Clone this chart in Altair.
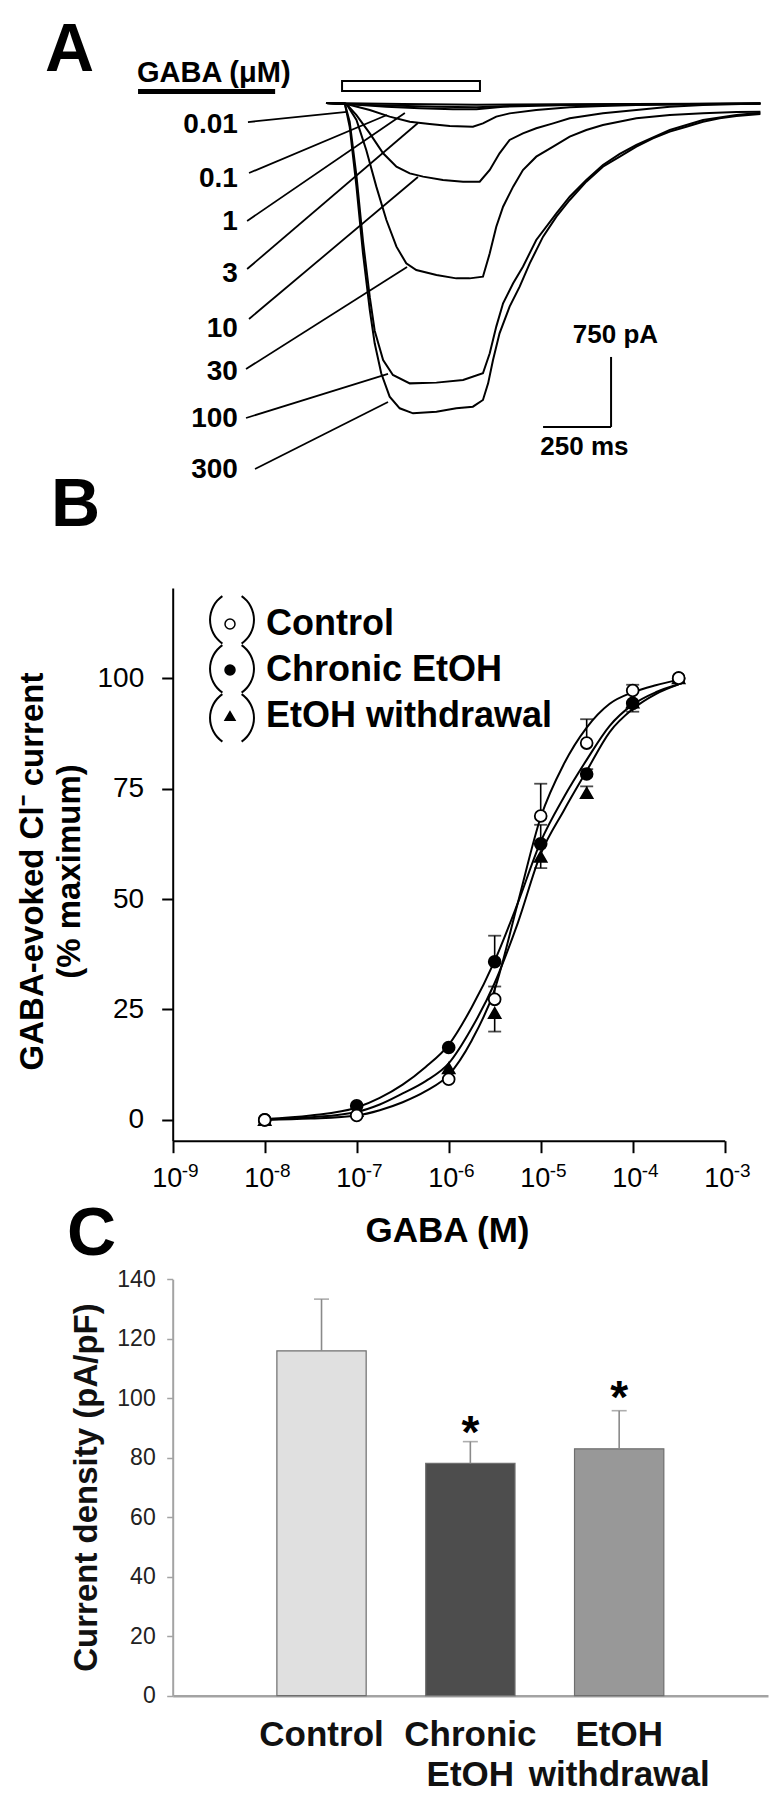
import altair as alt
import pandas as pd

FONT = "Liberation Sans"

# ======================= Panel A : current traces (time ms, current pA) =======================
dose_labels = ["0.01", "0.1", "1", "3", "10", "30", "100", "300"]

t_001 = [0, 283, 553, 1597]
i_001 = [0, -11, -18, -4]
t_01 = [0, 161, 406, 553, 773, 1597]
i_01 = [0, -21, -39, -46, -21, -4]
t_1 = [0, 75, 222, 344, 467, 553, 651, 896, 1597]
i_1 = [0, -11, -39, -57, -68, -68, -39, -21, -4]
t_3 = [0, 75, 161, 234, 308, 381, 455, 540, 577, 626, 675, 773, 896, 1018, 1141, 1597]
i_3 = [0, -11, -75, -146, -200, -225, -246, -254, -218, -146, -111, -75, -46, -32, -21, -4]
t_10 = [0, 75, 112, 161, 210, 259, 308, 357, 430, 504, 565, 602, 638, 675, 724, 773, 835, 896,
        1018, 1141, 1264, 1386, 1597]
i_10 = [0, -11, -129, -325, -539, -682, -754, -789, -825, -843, -843, -718, -539, -396, -325, -271,
        -218, -164, -111, -75, -39, -21, -4]
t_30 = [0, 75, 112, 148, 185, 222, 259, 295, 332, 406, 479, 528, 577, 602, 626, 651, 688, 724, 773,
        835, 896, 957, 1018, 1141, 1264, 1386, 1509, 1597]
i_30 = [0, -11, -182, -504, -896, -1254, -1539, -1718, -1789, -1843, -1879, -1879, -1861, -1611,
        -1325, -1111, -896, -718, -575, -468, -361, -289, -236, -164, -129, -111, -96, -93]
t_100 = [0, 69, 87, 112, 136, 161, 179, 210, 246, 308, 406, 504, 577, 602, 626, 651, 688, 724, 773,
         847, 896, 957, 1018, 1080, 1141, 1264, 1386, 1509, 1597]
i_100 = [0, -4, -200, -780, -1480, -2080, -2440, -2754, -2914, -3004, -2996, -2968, -2896, -2682,
         -2396, -2146, -1932, -1754, -1468, -1182, -1004, -825, -664, -546, -450, -289, -182, -129, -104]
t_300 = [0, 69, 87, 112, 136, 161, 179, 203, 234, 271, 320, 406, 479, 540, 577, 596, 614, 638, 675,
         712, 749, 798, 847, 896, 957, 1018, 1080, 1141, 1202, 1264, 1325, 1386, 1447, 1509, 1597]
i_300 = [0, -4, -254, -896, -1611, -2218, -2575, -2896, -3146, -3271, -3325, -3307, -3271, -3254,
         -3182, -3004, -2754, -2468, -2182, -1968, -1718, -1432, -1218, -1039, -843, -682, -575,
         -468, -379, -307, -254, -200, -164, -139, -118]

trace_t = [t_001, t_01, t_1, t_3, t_10, t_30, t_100, t_300]
trace_i = [i_001, i_01, i_1, i_3, i_10, i_30, i_100, i_300]

# dose labels (right-aligned text anchor) and leader lines, in ms / pA
label_t = [-324] * 8
label_i = [-321, -900, -1361, -1918, -2507, -2968, -3471, -4018]
lead_t1 = [-287, -283, -290, -290, -283, -294, -294, -261]
lead_i1 = [-204, -750, -1264, -1779, -2314, -2850, -3375, -3921]
lead_t2 = [77, 224, 290, 338, 338, 298, 228, 228]
lead_i2 = [-96, -129, -107, -214, -793, -1757, -2903, -3203]

# GABA application bar (ms) and header
stim_t = [59, 566]
stim_i = [129, 236]
header_text = ["GABA (\u03bcM)"]
header_t = [-695]
header_i = [225]
underline_t = [-691, -187]
underline_i = [123]

# scale bar: 750 pA x 250 ms
sb_t0, sb_i0 = [1048], [-3471]
sb_dt, sb_di = [250], [750]
sb_text = ["750 pA", "250 ms"]
sb_text_t = [1064, 950]
sb_text_i = [-2571, -3771]

panel_letters = ["A", "B", "C"]

# ======================= Panel B : concentration-response =======================
series = ["Control", "Chronic EtOH", "EtOH withdrawal"]
conc = [1e-8, 1e-7, 1e-6, 3.16e-6, 1e-5, 3.16e-5, 1e-4, 3.16e-4]
resp_control = [0, 1.0, 9.2, 27.3, 68.8, 85.3, 97.2, 100]
resp_chronic = [0, 3.2, 16.4, 35.8, 62.5, 78.3, 94.3, 100]
resp_withdrawal = [0, 2.0, 11.7, 24.2, 59.6, 74.0, 94.5, 100]

curve_conc = [1e-8, 3.16e-8, 1e-7, 1.78e-7, 3.16e-7, 5.62e-7, 1e-6, 1.78e-6, 3.16e-6, 5.62e-6,
              1e-5, 1.78e-5, 3.16e-5, 5.62e-5, 1e-4, 1.78e-4, 3.16e-4]
curve_control = [0.0, 0.3, 1.0, 2.2, 4.0, 6.5, 10.2, 18.0, 29.5, 49.0, 68.5, 80.5, 88.8, 94.2,
                 96.8, 98.4, 99.6]
curve_chronic = [0.2, 1.0, 2.8, 5.0, 8.0, 12.0, 17.0, 25.5, 36.0, 49.0, 63.0, 73.0, 81.5, 89.2,
                 94.0, 96.8, 98.6]
curve_withdrawal = [0.1, 0.6, 1.8, 3.5, 6.0, 8.8, 12.8, 20.8, 31.0, 44.5, 60.2, 70.0, 79.0, 87.8,
                    93.0, 96.4, 98.6]

# error bars (SEM) : series, concentration, mean, bar end (mean +/- sem)
eb_series = ["Control", "Control", "Control", "Control",
             "Chronic EtOH", "Chronic EtOH", "Chronic EtOH",
             "EtOH withdrawal", "EtOH withdrawal", "EtOH withdrawal", "EtOH withdrawal"]
eb_conc = [3.16e-6, 1e-5, 3.16e-5, 1e-4, 3.16e-6, 1e-5, 3.16e-5, 3.16e-6, 1e-5, 3.16e-5, 1e-4]
eb_mean = [27.3, 68.8, 85.3, 97.2, 35.8, 62.5, 78.3, 24.2, 59.6, 74.0, 94.5]
eb_end = [30.2, 76.1, 90.7, 98.5, 41.7, 66.8, 79.4, 20.0, 57.0, 75.5, 92.4]

x_tick_values = [1e-9, 1e-8, 1e-7, 1e-6, 1e-5, 1e-4, 1e-3]
x_tick_base = "10"
x_tick_exponents = ["-9", "-8", "-7", "-6", "-5", "-4", "-3"]
y_tick_values = [0, 25, 50, 75, 100]

# legend brackets (decorative arcs), placed in data space
br_conc = [5.26e-9, 5.26e-9, 5.26e-9, 3.70e-9, 3.70e-9, 3.70e-9]
br_pct = [113.2, 102.1, 91.0, 113.2, 102.1, 91.0]
br_th1 = [3.752, 3.752, 3.752, 0.611, 0.611, 0.611]
br_th2 = [5.672, 5.672, 5.672, 2.531, 2.531, 2.531]

# ======================= Panel C : current density =======================
groups = ["Control", "Chronic EtOH", "EtOH withdrawal"]
density = [115.9, 78.1, 83.0]
density_sem = [17.4, 7.3, 12.8]
bar_colors = ["#e0e0e0", "#4d4d4d", "#989898"]
star_text = ["", "*", "*"]
star_y = [0, 83.2, 94.9]
c_tick_values = [0, 20, 40, 60, 80, 100, 120, 140]

# ---------------------------------------------------------------- build panel A
rows = []
for lab, ts, cs in zip(dose_labels, trace_t, trace_i):
    for t, c in zip(ts, cs):
        rows.append({"dose": lab, "t": t, "I": c})
traces_df = pd.DataFrame(rows)

W = 767
HA, HB, HC = 472, 720, 592

xA = alt.Scale(domain=[-1169.1, 1650.7], nice=False, zero=False)
yA = alt.Scale(domain=[-4039.3, 1017.9], nice=False, zero=False)


def XA(f):
    return alt.X(f, type="quantitative", scale=xA, axis=None)


def YA(f):
    return alt.Y(f, type="quantitative", scale=yA, axis=None)


traces = alt.Chart(traces_df).mark_line(color="black", strokeWidth=2).encode(
    x=XA("t"), y=YA("I"), detail="dose:N")

lead_df = pd.DataFrame({"t1": lead_t1, "i1": lead_i1, "t2": lead_t2, "i2": lead_i2})
leaders = alt.Chart(lead_df).mark_rule(color="black", strokeWidth=1.8).encode(
    x=XA("t1"), y=YA("i1"), x2="t2", y2="i2")

lab_df = pd.DataFrame({"t": label_t, "I": label_i, "dose": dose_labels})
dose_text = alt.Chart(lab_df).mark_text(
    align="right", baseline="alphabetic", fontSize=28, fontWeight="bold", color="black"
).encode(x=XA("t"), y=YA("I"), text="dose:N")

stim_df = pd.DataFrame({"t0": [stim_t[0]], "t1": [stim_t[1]], "i0": [stim_i[0]], "i1": [stim_i[1]]})
stim = alt.Chart(stim_df).mark_rect(fill="white", stroke="black", strokeWidth=2).encode(
    x=XA("t0"), x2="t1", y=YA("i0"), y2="i1")

head_df = pd.DataFrame({"t": header_t, "I": header_i, "txt": header_text})
header = alt.Chart(head_df).mark_text(
    align="left", baseline="alphabetic", fontSize=29, fontWeight="bold", color="black"
).encode(x=XA("t"), y=YA("I"), text="txt:N")

ul_df = pd.DataFrame({"t0": [underline_t[0]], "t1": [underline_t[1]], "i": underline_i})
underline = alt.Chart(ul_df).mark_rule(color="black", strokeWidth=5).encode(
    x=XA("t0"), x2="t1", y=YA("i"))

sb_df = pd.DataFrame({
    "t0": [sb_t0[0], sb_t0[0] - sb_dt[0]],
    "t1": [sb_t0[0], sb_t0[0]],
    "i0": [sb_i0[0], sb_i0[0]],
    "i1": [sb_i0[0] + sb_di[0], sb_i0[0]],
})
scalebar = alt.Chart(sb_df).mark_rule(color="black", strokeWidth=2).encode(
    x=XA("t0"), x2="t1", y=YA("i0"), y2="i1")
sbt_df = pd.DataFrame({"t": sb_text_t, "I": sb_text_i, "txt": sb_text})
scalebar_text = alt.Chart(sbt_df).mark_text(
    align="center", baseline="alphabetic", fontSize=26, fontWeight="bold", color="black"
).encode(x=XA("t"), y=YA("I"), text="txt:N")


def letter(ch, x, y):
    return alt.Chart(pd.DataFrame({"L": [ch]})).mark_text(
        align="left", baseline="alphabetic", fontSize=68, fontWeight="bold", color="black"
    ).encode(text="L:N", x=alt.value(x), y=alt.value(y))


panelA = alt.layer(
    traces, leaders, dose_text, stim, header, underline, scalebar, scalebar_text,
    letter(panel_letters[0], 37, 63)
).properties(width=W, height=HA)

# ---------------------------------------------------------------- build panel B
pts_rows = []
for s, vals in zip(series, [resp_control, resp_chronic, resp_withdrawal]):
    for c, v in zip(conc, vals):
        pts_rows.append({"series": s, "conc": c, "pct": v})
pts_df = pd.DataFrame(pts_rows)

cur_rows = []
for s, vals in zip(series, [curve_control, curve_chronic, curve_withdrawal]):
    for c, v in zip(curve_conc, vals):
        cur_rows.append({"series": s, "conc": c, "pct": v})
cur_df = pd.DataFrame(cur_rows)

eb_df = pd.DataFrame({"series": eb_series, "conc": eb_conc, "pct": eb_mean, "end": eb_end})

xB_scale = alt.Scale(type="log", domain=[1e-9, 1e-3], range=[164.7, 716.7], nice=False)
yB_scale = alt.Scale(domain=[-4.7, 120.4], range=[660.7, 108], nice=False, zero=False)

xB_axis = alt.Axis(
    values=x_tick_values, labelExpr="'" + x_tick_base + "'", labelOffset=-6,
    offset=-59.3, orient="bottom",
    tickSize=12, tickWidth=2, tickColor="black", domainColor="black", domainWidth=2,
    labelFontSize=27, labelColor="black", labelPadding=34, labelBaseline="alphabetic",
    labelFlush=False, labelOverlap=False, grid=False,
    title="GABA (M)", titleFontSize=35, titleFontWeight="bold", titleColor="black",
    titleX=439, titleY=101, titleBaseline="alphabetic", titleAlign="center",
)
yB_axis = alt.Axis(
    values=y_tick_values, offset=-164.7, orient="left",
    tickSize=11, tickWidth=2, tickColor="black", domainColor="black", domainWidth=2,
    labelFontSize=28, labelColor="black", labelPadding=18, grid=False,
    title=["GABA-evoked Cl\u207b current", "(% maximum)"], titleFontSize=33,
    titleFontWeight="bold", titleColor="black", titleAngle=270, titleX=-130.7, titleY=391,
    titleBaseline="alphabetic", titleAlign="center", titleLineHeight=37,
)


def XB(f="conc"):
    return alt.X(f, type="quantitative", scale=xB_scale, axis=xB_axis)


def YB(f="pct"):
    return alt.Y(f, type="quantitative", scale=yB_scale, axis=yB_axis)


curves = alt.Chart(cur_df).mark_line(color="black", strokeWidth=2, interpolate="monotone").encode(
    x=XB(), y=YB(), detail="series:N")

ebars = alt.Chart(eb_df).mark_rule(color="black", strokeWidth=1.6).encode(x=XB(), y=YB(), y2="end:Q")
caps = alt.Chart(eb_df).mark_tick(color="black", thickness=1.8, size=13, orient="horizontal").encode(
    x=XB(), y=YB("end"))

legendB = alt.Legend(
    orient="none", legendX=204, legendY=126, title=None, direction="vertical",
    labelFontSize=36, labelFontWeight="bold", labelColor="black", labelFont=FONT,
    symbolSize=100, symbolStrokeWidth=1.5,
    rowPadding=10, labelOffset=18, padding=0, labelLimit=0,
)
fill_scale = alt.Scale(domain=series, range=["white", "black", "black"])
stroke_scale = alt.Scale(domain=series, range=["black", "black", "black"])
shape_scale = alt.Scale(domain=series, range=["circle", "circle", "triangle-up"])

points = alt.Chart(pts_df).mark_point(
    filled=True, strokeWidth=1.8, size=140, opacity=1
).encode(
    x=XB(), y=YB(),
    fill=alt.Fill("series:N", scale=fill_scale, legend=legendB),
    stroke=alt.Stroke("series:N", scale=stroke_scale, legend=legendB),
    shape=alt.Shape("series:N", scale=shape_scale, legend=legendB),
    order=alt.Order("order_key:Q"),
).transform_calculate(order_key="datum.series == 'Control' ? 3 : (datum.series == 'Chronic EtOH' ? 2 : 1)")

br_df = pd.DataFrame({"conc": br_conc, "pct": br_pct, "th1": br_th1, "th2": br_th2})
brackets = alt.Chart(br_df).mark_arc(radius=30, radius2=28, color="black").encode(
    x=XB(), y=YB(),
    theta=alt.Theta("th1:Q", scale=None),
    theta2="th2:Q",
)

# superscript exponents of the x tick labels (10^-n), positioned through the x scale
exp_df = pd.DataFrame({"conc": x_tick_values, "e": x_tick_exponents})
exponents = alt.Chart(exp_df).mark_text(
    align="left", baseline="alphabetic", fontSize=19, dx=9, color="black"
).encode(x=XB(), y=alt.value(697), text="e:N")

panelB = alt.layer(
    curves, ebars, caps, points, brackets, exponents, letter(panel_letters[1], 43, 46)
).properties(width=W, height=HB)

# ---------------------------------------------------------------- build panel C
c_df = pd.DataFrame({
    "group": groups, "density": density,
    "hi": [d + s for d, s in zip(density, density_sem)],
    "star": star_text, "star_y": star_y,
})

xC_scale = alt.Scale(domain=groups, range=[164.7, 760], paddingInner=0.4, paddingOuter=0.7)
yC_scale = alt.Scale(domain=[0, 140], range=[495.7, 79.2], nice=False, zero=False)

xC_axis = alt.Axis(
    orient="bottom", offset=-96.3, ticks=False, tickSize=0, domainColor="#a3a3a3", domainWidth=2.5,
    labelFontSize=35, labelFontWeight="bold", labelColor="#111111", labelAngle=0,
    labelPadding=50, labelBaseline="alphabetic", labelLineHeight=40, labelLimit=0,
    labelExpr=("datum.label == 'Chronic EtOH' ? ['Chronic', 'EtOH'] : "
               "(datum.label == 'EtOH withdrawal' ? ['EtOH', 'withdrawal'] : datum.label)"),
    title=None, grid=False,
)
yC_axis = alt.Axis(
    values=c_tick_values, offset=-164.7, orient="left", tickSize=6, tickWidth=1.5,
    tickColor="#a3a3a3", domainColor="#a3a3a3", domainWidth=2,
    labelFontSize=23, labelColor="#222222", labelPadding=11.5, grid=False,
    title="Current density (pA/pF)", titleFontSize=33, titleFontWeight="bold",
    titleColor="#111111", titleAngle=270, titleX=-76.7, titleY=287,
    titleBaseline="alphabetic", titleAlign="center",
)

XC = alt.X("group:N", scale=xC_scale, axis=xC_axis, sort=groups)


def YC(f):
    return alt.Y(f, type="quantitative", scale=yC_scale, axis=yC_axis)


bars = alt.Chart(c_df).mark_bar(stroke="#6e6e6e", strokeWidth=1.2).encode(
    x=XC,
    y=YC("density"),
    y2=alt.datum(0),
    fill=alt.Fill("group:N", scale=alt.Scale(domain=groups, range=bar_colors), legend=None),
)
c_err = alt.Chart(c_df).mark_rule(color="#8a8a8a", strokeWidth=1.6).encode(
    x=XC, y=YC("density"), y2="hi:Q")
c_caps = alt.Chart(c_df).mark_tick(color="#8a8a8a", thickness=1.6, size=15).encode(
    x=XC, y=YC("hi"))
stars = alt.Chart(c_df).mark_text(
    fontSize=46, fontWeight="bold", color="black", baseline="alphabetic", align="center"
).encode(x=XC, y=YC("star_y"), text="star:N")

panelC = alt.layer(
    bars, c_err, c_caps, stars, letter(panel_letters[2], 59, 55)
).properties(width=W, height=HC)

chart = alt.vconcat(panelA, panelB, panelC, spacing=0, bounds="flush", padding=0).resolve_scale(
    x="independent", y="independent", fill="independent", shape="independent",
    stroke="independent"
).configure(font=FONT).configure_view(stroke=None)

chart.save("out.html", embed_options={"renderer": "svg", "actions": False})
